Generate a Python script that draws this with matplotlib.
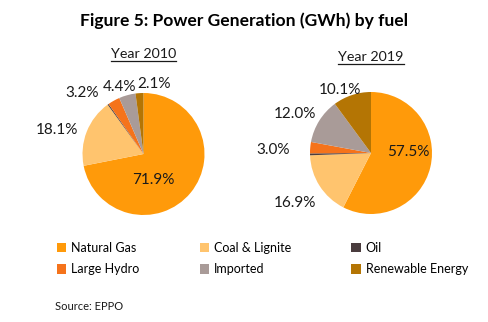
import matplotlib.pyplot as plt
from matplotlib.lines import Line2D
from matplotlib.patches import Patch

plt.rcParams['font.family'] = ['Lato', 'DejaVu Sans']

fuels = ['Natural Gas', 'Coal & Lignite', 'Oil', 'Large Hydro', 'Imported', 'Renewable Energy']
share_2010 = [71.9, 18.1, 0.3, 3.2, 4.4, 2.1]
share_2019 = [57.5, 16.9, 0.5, 3.0, 12.0, 10.1]
colors = ['#FF9A0A', '#FFC46E', '#4A3C3E', '#F5731B', '#A99B98', '#B47504']

# label placement (pie radius units), None = no label
pos_2010 = [(0.16, -0.43), (-1.42, 0.39), None, (-1.0, 1.0), (-0.40, 1.10), (0.17, 1.15)]
pos_2019 = [(0.61, 0.02), (-1.25, -0.82), None, (-1.6, 0.05), (-1.25, 0.64), (-0.51, 1.03)]

W, H = 489, 322
fig = plt.figure(figsize=(W / 100, H / 100), dpi=100)


def draw_pie(cx, cy, r, values, positions, title, title_base):
    ax = fig.add_axes([(cx - r) / W, 1 - (cy + r) / H, 2 * r / W, 2 * r / H])
    ax.pie(values, colors=colors, startangle=90, counterclock=False,
           wedgeprops=dict(linewidth=0))
    ax.set_xlim(-1, 1)
    ax.set_ylim(-1, 1)
    ax.set_aspect('equal')
    ax.axis('off')
    for v, p in zip(values, positions):
        if p is None:
            continue
        ax.text(p[0], p[1], f'{v:.1f}%', ha='center', va='center',
                fontsize=11, color='#1a1a1a', clip_on=False)
    # underlined subtitle
    t = fig.text(cx / W, 1 - title_base / H, title, ha='center', va='baseline',
                 fontsize=10.3, color='#1a1a1a')
    fig.canvas.draw()
    bb = t.get_window_extent()
    y = (bb.y0 - 1) / H
    fig.add_artist(Line2D([bb.x0 / W, bb.x1 / W], [y, y], color='#1a1a1a', lw=0.9))


fig.suptitle('Figure 5: Power Generation (GWh) by fuel', x=0.5, y=1 - 12 / H,
             fontsize=12.6, fontweight='bold', va='top')

draw_pie(143.5, 154, 61, share_2010, pos_2010, 'Year 2010', 58)
draw_pie(371, 153, 61, share_2019, pos_2019, 'Year 2019', 61)

# legend is filled column by column, so reorder to read row-wise
order = [0, 3, 1, 4, 2, 5]
handles = [Patch(facecolor=colors[i], edgecolor='none') for i in order]
labels = [fuels[i] for i in order]
fig.legend(handles, labels, ncol=3, loc='upper left',
           bbox_to_anchor=(52 / W, 1 - 237 / H), frameon=False, fontsize=9,
           handlelength=0.75, handleheight=0.75, handletextpad=0.4,
           columnspacing=4.8, labelspacing=0.75, borderaxespad=0)

fig.text(55 / W, 1 - 306 / H, 'Source: EPPO', fontsize=8, va='center', color='#1a1a1a')

fig.savefig('out.png', dpi=100, facecolor='white')
